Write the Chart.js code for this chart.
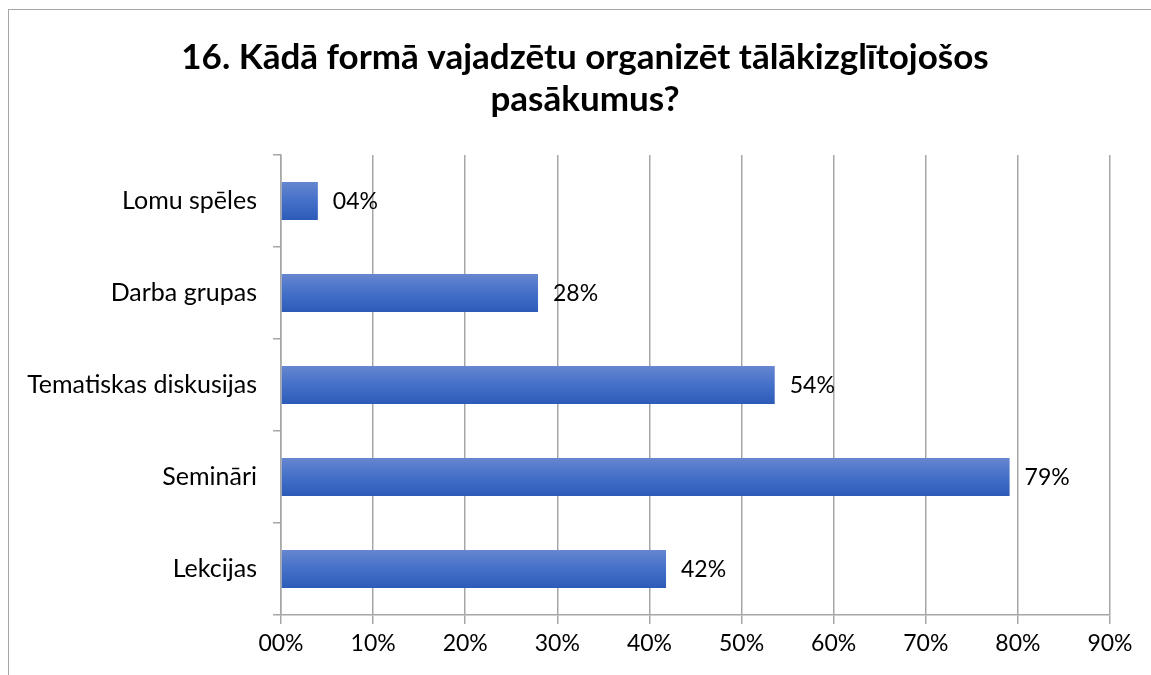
<!DOCTYPE html>
<html>
<head>
<meta charset="utf-8">
<script src="https://cdn.jsdelivr.net/npm/chart.js@4"></script>
<style>
  html, body { margin: 0; padding: 0; background: #fff; overflow: hidden; }
  #wrap { position: relative; width: 1151px; height: 675px; overflow: hidden; }
  #frame { position: absolute; left: 8px; top: 9px; width: 1200px; height: 720px; border: 1.5px solid #a6a6a6; }
  canvas { position: absolute; left: 0; top: 0; }
</style>
</head>
<body>
<div id="wrap">
  <div id="frame"></div>
  <canvas id="c" width="1170" height="675"></canvas>
</div>
<script>
const titleLines = ['16. Kādā formā vajadzētu organizēt tālākizglītojošos', 'pasākumus?'];
const categories = ['Lomu spēles', 'Darba grupas', 'Tematiskas diskusijas', 'Semināri', 'Lekcijas'];
const values = [4, 27.9, 53.6, 79.1, 41.8];
const xTickLabels = ['00%', '10%', '20%', '30%', '40%', '50%', '60%', '70%', '80%', '90%'];

const FONT = 'Lato, "Open Sans", sans-serif';

const valueLabels = {
  id: 'valueLabels',
  afterDatasetsDraw(chart) {
    const ctx = chart.ctx;
    const meta = chart.getDatasetMeta(0);
    ctx.save();
    ctx.font = '23px ' + FONT;
    ctx.fillStyle = '#000';
    ctx.textAlign = 'left';
    ctx.textBaseline = 'middle';
    meta.data.forEach((el, i) => {
      const v = values[i];
      const txt = String(Math.round(v)).padStart(2, '0') + '%';
      ctx.fillText(txt, el.x + 15, el.y + 1);
    });
    ctx.restore();
  }
};

new Chart(document.getElementById('c'), {
  type: 'bar',
  data: {
    labels: categories,
    datasets: [{
      data: values,
      borderWidth: 0,
      categoryPercentage: 1,
      barPercentage: 0.413,
      backgroundColor(ctx) {
        const chart = ctx.chart;
        const ys = chart.scales && chart.scales.y;
        if (!ys || !chart.chartArea) return '#4a72c6';
        const yc = ys.getPixelForValue(ctx.dataIndex);
        const h = 19;
        const g = chart.ctx.createLinearGradient(0, yc - h, 0, yc + h);
        g.addColorStop(0, '#6686d0');
        g.addColorStop(0.5, '#4470c8');
        g.addColorStop(1, '#2c5bb8');
        return g;
      }
    }]
  },
  options: {
    indexAxis: 'y',
    responsive: false,
    animation: false,
    devicePixelRatio: 1,
    layout: { padding: { left: 0, right: 0, top: 0, bottom: 0 } },
    plugins: {
      legend: { display: false },
      tooltip: { enabled: false },
      title: {
        display: true,
        text: titleLines,
        color: '#000',
        font: { family: FONT, size: 35, weight: 'bold', lineHeight: 1.2 },
        padding: { top: 37, bottom: 34 }
      }
    },
    scales: {
      x: {
        min: 0, max: 90,
        ticks: {
          stepSize: 10,
          color: '#000',
          font: { family: FONT, size: 23 },
          padding: 6,
          callback: (v, i) => xTickLabels[i]
        },
        grid: { color: '#a6a6a6', lineWidth: 1.5, tickLength: 9, drawTicks: true },
        border: { color: '#a6a6a6', width: 1.5 },
        afterFit(scale) { scale.height = 60; }
      },
      y: {
        ticks: {
          color: '#000',
          font: { family: FONT, size: 25 },
          padding: 16
        },
        grid: { drawOnChartArea: false, color: '#a6a6a6', lineWidth: 1.5, tickLength: 8, offset: true },
        border: { color: '#a6a6a6', width: 1.5 },
        afterFit(scale) { scale.width = 281; }
      },
      spacer: {
        type: 'linear',
        position: 'right',
        display: true,
        ticks: { display: false },
        grid: { display: false },
        border: { display: false },
        afterFit(scale) { scale.width = 60; }
      }
    }
  },
  plugins: [valueLabels]
});
</script>
</body>
</html>
